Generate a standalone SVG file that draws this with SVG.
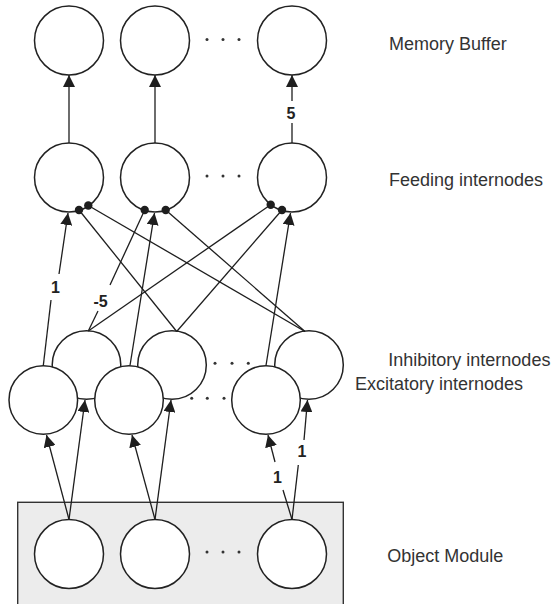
<svg xmlns="http://www.w3.org/2000/svg" width="553" height="604" viewBox="0 0 553 604">
  <defs>
    <marker id="arrow" markerUnits="userSpaceOnUse" markerWidth="12" markerHeight="12" viewBox="0 0 12 12" refX="12" refY="6" orient="auto">
      <path d="M0,0 L12,6 L0,12 Z" fill="#1e1e1e"/>
    </marker>
  </defs>
  <style>
    .node { fill: #ffffff; stroke: #222; stroke-width: 1.5; }
    .edge { stroke: #1e1e1e; stroke-width: 1.3; fill: none; }
    .arr { marker-end: url(#arrow); }
    .syn { fill: #1e1e1e; }
    .dot { fill: #333; }
    .label { font-family: "Liberation Sans", Arial, sans-serif; font-size: 18px; fill: #333; }
    .w { font-family: "Liberation Sans", Arial, sans-serif; font-size: 16px; font-weight: bold; fill: #222; text-anchor: middle; }
  </style>

  <!-- object module frame -->
  <rect id="object-module-frame" x="17.7" y="502.3" width="325.6" height="106" fill="#ececec" stroke="#333" stroke-width="1.4"/>

  <!-- memory buffer -->
  <g id="memory-1"><circle class="node" cx="69" cy="40.5" r="34.5"/></g>
  <g id="memory-2"><circle class="node" cx="155" cy="40.5" r="34.5"/></g>
  <g id="memory-n"><circle class="node" cx="292" cy="40.5" r="34.5"/></g>
  <g id="memory-dots"><circle class="dot" cx="207" cy="39.5" r="1.5"/><circle class="dot" cx="223" cy="39.5" r="1.5"/><circle class="dot" cx="239" cy="39.5" r="1.5"/></g>

  <!-- feeding internodes -->
  <g id="feeding-1"><circle class="node" cx="69" cy="177.5" r="34.5"/></g>
  <g id="feeding-2"><circle class="node" cx="155" cy="177.5" r="34.5"/></g>
  <g id="feeding-n"><circle class="node" cx="292" cy="177.5" r="34.5"/></g>
  <g id="feeding-dots"><circle class="dot" cx="207" cy="176" r="1.5"/><circle class="dot" cx="223" cy="176" r="1.5"/><circle class="dot" cx="239" cy="176" r="1.5"/></g>

  <!-- inhibitory internodes (behind excitatory row) -->
  <g id="inhibitory-1"><circle class="node" cx="86.5" cy="365" r="34.3"/></g>
  <g id="inhibitory-2"><circle class="node" cx="172" cy="365" r="34.3"/></g>
  <g id="inhibitory-n"><circle class="node" cx="309" cy="365" r="34.3"/></g>
  <g id="inhibitory-dots"><circle class="dot" cx="215" cy="363.3" r="1.5"/><circle class="dot" cx="232" cy="363.3" r="1.5"/><circle class="dot" cx="248.3" cy="363.3" r="1.5"/></g>

  <!-- excitatory internodes -->
  <g id="excitatory-1"><circle class="node" cx="43.3" cy="400" r="34.3"/></g>
  <g id="excitatory-2"><circle class="node" cx="129" cy="400" r="34.3"/></g>
  <g id="excitatory-n"><circle class="node" cx="266" cy="400" r="34.3"/></g>
  <g id="excitatory-dots"><circle class="dot" cx="191.7" cy="398.3" r="1.5"/><circle class="dot" cx="207.3" cy="398.3" r="1.5"/><circle class="dot" cx="224" cy="398.3" r="1.5"/></g>

  <!-- object module nodes -->
  <g id="object-1"><circle class="node" cx="69" cy="554" r="34.5"/></g>
  <g id="object-2"><circle class="node" cx="155" cy="554" r="34.5"/></g>
  <g id="object-n"><circle class="node" cx="292" cy="554" r="34.5"/></g>
  <g id="object-dots"><circle class="dot" cx="207" cy="552" r="1.5"/><circle class="dot" cx="223" cy="552" r="1.5"/><circle class="dot" cx="239" cy="552" r="1.5"/></g>

  <g id="connectors">
    <!-- feeding to memory -->
    <line class="edge arr" x1="69" y1="143" x2="69" y2="75"/>
    <line class="edge arr" x1="155" y1="143" x2="155" y2="75"/>
    <line class="edge" x1="292" y1="143" x2="292" y2="123"/>
    <line class="edge arr" x1="292" y1="101" x2="292" y2="75"/>

    <!-- excitatory to feeding -->
    <line class="edge" x1="43.3" y1="365.5" x2="51" y2="300"/>
    <line class="edge arr" x1="59" y1="274" x2="68" y2="213"/>
    <line class="edge arr" x1="130" y1="365.5" x2="154.5" y2="213"/>
    <line class="edge arr" x1="266" y1="365.5" x2="290.5" y2="213"/>

    <!-- inhibitory to feeding (synapses) -->
    <line class="edge" x1="88.3" y1="331" x2="98" y2="311"/>
    <line class="edge" x1="110" y1="285" x2="144.7" y2="210"/>
    <line class="edge" x1="88.3" y1="331" x2="270.7" y2="204.7"/>
    <line class="edge" x1="176.7" y1="331.5" x2="79" y2="210"/>
    <line class="edge" x1="176.7" y1="331.5" x2="282" y2="210"/>
    <line class="edge" x1="305" y1="331.5" x2="88.3" y2="205.5"/>
    <line class="edge" x1="305" y1="331.5" x2="165.7" y2="210"/>
    <circle class="syn" cx="79" cy="210" r="4.2"/>
    <circle class="syn" cx="88.3" cy="205.5" r="4.2"/>
    <circle class="syn" cx="144.7" cy="210" r="4.2"/>
    <circle class="syn" cx="165.7" cy="210" r="4.2"/>
    <circle class="syn" cx="270.7" cy="204.7" r="4.2"/>
    <circle class="syn" cx="282" cy="210" r="4.2"/>

    <!-- object module to excitatory / inhibitory -->
    <line class="edge arr" x1="69" y1="519.5" x2="46.5" y2="435"/>
    <line class="edge arr" x1="69" y1="519.5" x2="85" y2="400"/>
    <line class="edge arr" x1="155" y1="519.5" x2="132" y2="435"/>
    <line class="edge arr" x1="155" y1="519.5" x2="171" y2="400"/>
    <line class="edge" x1="292" y1="519.5" x2="283" y2="490"/>
    <line class="edge arr" x1="275" y1="462" x2="268" y2="435"/>
    <line class="edge" x1="292" y1="519.5" x2="298.3" y2="465"/>
    <line class="edge arr" x1="304" y1="440" x2="307.5" y2="400"/>

    <!-- weights -->
    <text class="w" x="291" y="119">5</text>
    <text class="w" x="55.5" y="293">1</text>
    <text class="w" x="100.5" y="307">-5</text>
    <text class="w" x="277.5" y="482.5">1</text>
    <text class="w" x="302" y="456.5">1</text>
  </g>

  <!-- layer captions -->
  <text class="label" x="389" y="50">Memory Buffer</text>
  <text class="label" x="389" y="185.7">Feeding internodes</text>
  <text class="label" x="388.3" y="366">Inhibitory internodes</text>
  <text class="label" x="355" y="390">Excitatory internodes</text>
  <text class="label" x="387.3" y="561.7">Object Module</text>
</svg>
